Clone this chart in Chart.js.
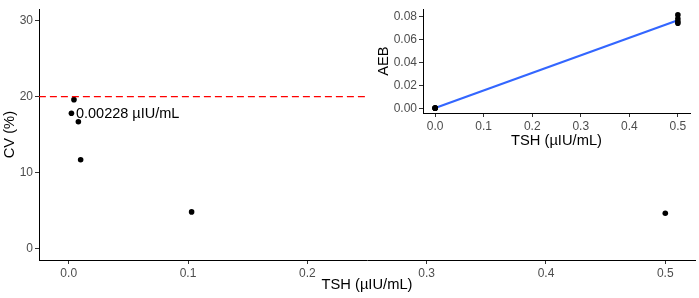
<!DOCTYPE html>
<html>
<head>
<meta charset="utf-8">
<script src="https://cdn.jsdelivr.net/npm/chart.js@4.4.0/dist/chart.umd.min.js"></script>
<style>
  html, body { margin: 0; padding: 0; background: #ffffff; }
  #wrap { position: relative; width: 699px; height: 298px; }
  #main { position: absolute; left: 0; top: 0; }
  #inset { position: absolute; left: 375px; top: 0; }
</style>
</head>
<body>
<div id="wrap">
  <canvas id="main" width="699" height="298"></canvas>
  <canvas id="inset" width="324" height="150"></canvas>
</div>
<script>
// ---- Main panel data ----
const tshValues = [0.00228, 0.0044, 0.0081, 0.0100, 0.103, 0.5];
const cvValues = [17.8, 19.6, 16.7, 11.7, 4.83, 4.66];
const cutoffX = [-0.025, 0.25];
const cutoffY = [20, 20];
const labelText = "0.00228 µIU/mL";
const labelX = 0.00228;
const labelY = 17.8;
const mainXTicks = [0, 0.1, 0.2, 0.3, 0.4, 0.5];
const mainYTicks = [0, 10, 20, 30];

// ---- Inset panel data ----
const insetTsh = [0, 0, 0, 0, 0.5, 0.5, 0.5, 0.5];
const insetAeb = [0.0, 0.0002, 0.0004, 0.0001, 0.0745, 0.0760, 0.0785, 0.0818];
const fitX = [0, 0.5];
const fitY = [0.0002, 0.0771];
const insetXTicks = [0, 0.1, 0.2, 0.3, 0.4, 0.5];
const insetYTicks = [0, 0.02, 0.04, 0.06, 0.08];

const FONT = "'Liberation Sans', Arial, sans-serif";
const tickFont = { family: FONT, size: 12 };
const titleFont = { family: FONT, size: 14.7 };

function axisBase(ticksArr, fmt) {
  return {
    type: 'linear',
    grid: { drawOnChartArea: false, drawTicks: true, tickLength: 4, color: '#333333', lineWidth: 1 },
    border: { display: true, color: '#000000', width: 1 },
    ticks: { color: '#4D4D4D', font: tickFont, padding: 2, maxRotation: 0, autoSkip: false,
             callback: (v) => fmt(v) },
    afterBuildTicks: (s) => { s.ticks = ticksArr.map(v => ({ value: v })); }
  };
}

const labelPlugin = {
  id: 'pointLabel',
  afterDatasetsDraw(chart) {
    const ctx = chart.ctx;
    const px = chart.scales.x.getPixelForValue(labelX);
    const py = chart.scales.y.getPixelForValue(labelY);
    ctx.save();
    ctx.font = "14.5px " + FONT;
    ctx.fillStyle = '#000000';
    ctx.textAlign = 'left';
    ctx.textBaseline = 'middle';
    ctx.fillText(labelText, px + 4.5, py + 1);
    ctx.restore();
  }
};

const mainX = axisBase(mainXTicks, v => v.toFixed(1));
mainX.min = -0.0249; mainX.max = 0.5249;
mainX.title = { display: true, text: 'TSH (µIU/mL)', color: '#000000', font: titleFont, padding: { top: 0, bottom: 4 } };
mainX.afterFit = (s) => { s.height = 38; };

const mainY = axisBase(mainYTicks, v => String(v));
mainY.min = -1.5; mainY.max = 31.5;
mainY.title = { display: true, text: 'CV (%)', color: '#000000', font: titleFont, padding: { top: 1, bottom: 0 } };
mainY.afterFit = (s) => { s.width = 39; };

new Chart(document.getElementById('main'), {
  type: 'scatter',
  data: {
    datasets: [
      {
        type: 'line',
        data: cutoffX.map((x, i) => ({ x, y: cutoffY[i] })),
        borderColor: '#FF0000',
        borderWidth: 1.4,
        borderDash: [7, 4],
        pointRadius: 0,
        fill: false
      },
      {
        data: tshValues.map((x, i) => ({ x, y: cvValues[i] })),
        backgroundColor: '#000000',
        borderColor: '#000000',
        pointRadius: 2.8,
        pointBorderWidth: 0
      }
    ]
  },
  options: {
    responsive: false,
    animation: false,
    layout: { padding: { top: 0, right: 2, bottom: 0, left: 0 } },
    plugins: { legend: { display: false }, tooltip: { enabled: false } },
    scales: { x: mainX, y: mainY }
  },
  plugins: [labelPlugin]
});

const inX = axisBase(insetXTicks, v => v.toFixed(1));
inX.min = -0.025; inX.max = 0.525;
inX.title = { display: true, text: 'TSH (µIU/mL)', color: '#000000', font: titleFont, padding: { top: 0, bottom: 0 } };
inX.afterFit = (s) => { s.height = 37; };

const inY = axisBase(insetYTicks, v => v.toFixed(2));
inY.min = -0.0041; inY.max = 0.0868;
inY.title = { display: true, text: 'AEB', color: '#000000', font: titleFont, padding: { top: 0, bottom: 0 } };
inY.afterFit = (s) => { s.width = 48; };

new Chart(document.getElementById('inset'), {
  type: 'scatter',
  data: {
    datasets: [
      {
        data: insetTsh.map((x, i) => ({ x, y: insetAeb[i] })),
        backgroundColor: '#000000',
        borderColor: '#000000',
        pointRadius: 2.8,
        pointBorderWidth: 0
      },
      {
        type: 'line',
        data: fitX.map((x, i) => ({ x, y: fitY[i] })),
        borderColor: '#3366FF',
        borderWidth: 2.2,
        pointRadius: 0,
        fill: false
      }
    ]
  },
  options: {
    responsive: false,
    animation: false,
    layout: { padding: { top: 9, right: 9, bottom: 0, left: 0 } },
    plugins: { legend: { display: false }, tooltip: { enabled: false } },
    scales: { x: inX, y: inY }
  }
});
</script>
</body>
</html>
